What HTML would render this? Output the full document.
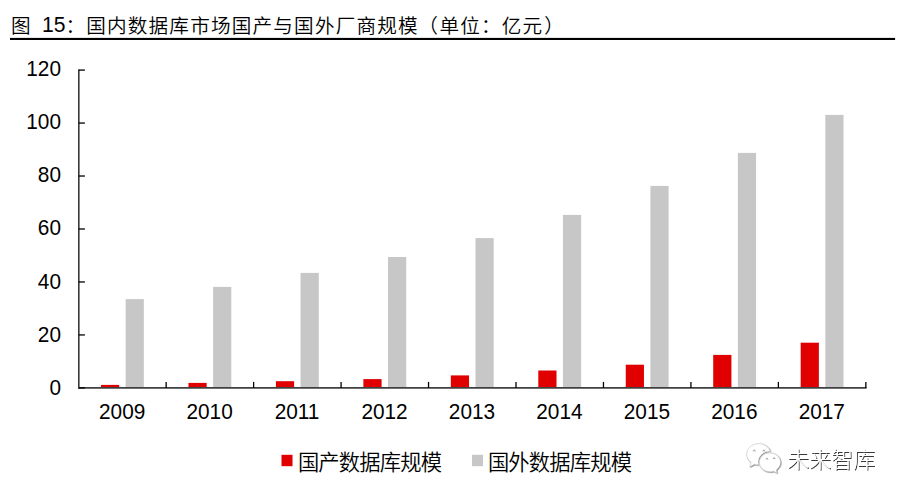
<!DOCTYPE html>
<html lang="zh-CN">
<head>
<meta charset="utf-8">
<title>图 15:国内数据库市场国产与国外厂商规模</title>
<style>
html,body{margin:0;padding:0;background:#fff;}
body{width:905px;height:500px;overflow:hidden;position:relative;}
svg{position:absolute;left:0;top:0;display:block;}
.cjk{font-family:"Liberation Sans","Noto Sans CJK SC DemiLight","Noto Sans CJK SC",sans-serif;fill:#000;}
.num{font-family:"Liberation Sans",sans-serif;fill:#000;font-size:20.8px;}
</style>
</head>
<body>
<svg width="905" height="500" viewBox="0 0 905 500">
<rect x="0" y="0" width="905" height="500" fill="#ffffff"/>
<text class="cjk t" x="11" y="33.1" font-size="19.6" letter-spacing="1.2">图</text>
<text class="num" transform="translate(41.9,31.9) scale(1,1.07)" style="font-size:21.1px">15</text>
<text class="cjk t" y="33.1" font-size="19.6" letter-spacing="1.2"><tspan x="65.4">：国内数据库市场国产与国外厂商规模</tspan><tspan dx="-0.6">（</tspan><tspan dx="0.3">单位：亿元</tspan><tspan dx="0.8">）</tspan></text>
<rect x="10" y="37.9" width="885.1" height="2.1" fill="#000"/>
<rect x="101.00" y="384.9" width="18.2" height="3.00" fill="#e00000"/><rect x="125.65" y="299.1" width="18.2" height="88.80" fill="#c7c7c7"/>
<rect x="188.46" y="382.9" width="18.2" height="5.00" fill="#e00000"/><rect x="213.11" y="286.9" width="18.2" height="101.00" fill="#c7c7c7"/>
<rect x="275.92" y="381.2" width="18.2" height="6.70" fill="#e00000"/><rect x="300.57" y="272.9" width="18.2" height="115.00" fill="#c7c7c7"/>
<rect x="363.38" y="379.1" width="18.2" height="8.80" fill="#e00000"/><rect x="388.03" y="257.0" width="18.2" height="130.90" fill="#c7c7c7"/>
<rect x="450.84" y="375.4" width="18.2" height="12.50" fill="#e00000"/><rect x="475.49" y="238.1" width="18.2" height="149.80" fill="#c7c7c7"/>
<rect x="538.30" y="370.5" width="18.2" height="17.40" fill="#e00000"/><rect x="562.95" y="214.9" width="18.2" height="173.00" fill="#c7c7c7"/>
<rect x="625.76" y="364.7" width="18.2" height="23.20" fill="#e00000"/><rect x="650.41" y="185.9" width="18.2" height="202.00" fill="#c7c7c7"/>
<rect x="713.22" y="354.9" width="18.2" height="33.00" fill="#e00000"/><rect x="737.87" y="152.9" width="18.2" height="235.00" fill="#c7c7c7"/>
<rect x="800.68" y="342.7" width="18.2" height="45.20" fill="#e00000"/><rect x="825.33" y="114.9" width="18.2" height="273.00" fill="#c7c7c7"/>
<line x1="78.85000000000001" y1="69.4" x2="78.85000000000001" y2="388.59999999999997" stroke="#000" stroke-width="1.25"/>
<line x1="78.0" y1="387.9" x2="866.54" y2="387.9" stroke="#404040" stroke-width="1.6"/>
<line x1="78.7" y1="387.90" x2="84.9" y2="387.90" stroke="#000" stroke-width="1.3"/><text class="num" transform="translate(61,394.90) scale(1,1.07)" text-anchor="end">0</text>
<line x1="78.7" y1="334.93" x2="84.9" y2="334.93" stroke="#000" stroke-width="1.3"/><text class="num" transform="translate(61,341.75) scale(1,1.07)" text-anchor="end">20</text>
<line x1="78.7" y1="281.96" x2="84.9" y2="281.96" stroke="#000" stroke-width="1.3"/><text class="num" transform="translate(61,288.60) scale(1,1.07)" text-anchor="end">40</text>
<line x1="78.7" y1="228.99" x2="84.9" y2="228.99" stroke="#000" stroke-width="1.3"/><text class="num" transform="translate(61,235.45) scale(1,1.07)" text-anchor="end">60</text>
<line x1="78.7" y1="176.02" x2="84.9" y2="176.02" stroke="#000" stroke-width="1.3"/><text class="num" transform="translate(61,182.30) scale(1,1.07)" text-anchor="end">80</text>
<line x1="78.7" y1="123.05" x2="84.9" y2="123.05" stroke="#000" stroke-width="1.3"/><text class="num" transform="translate(61,129.15) scale(1,1.07)" text-anchor="end">100</text>
<line x1="78.7" y1="70.08" x2="84.9" y2="70.08" stroke="#000" stroke-width="1.3"/><text class="num" transform="translate(61,76.00) scale(1,1.07)" text-anchor="end">120</text>
<line x1="166.16" y1="381.9" x2="166.16" y2="387.9" stroke="#000" stroke-width="1.3"/><line x1="253.62" y1="381.9" x2="253.62" y2="387.9" stroke="#000" stroke-width="1.3"/><line x1="341.08" y1="381.9" x2="341.08" y2="387.9" stroke="#000" stroke-width="1.3"/><line x1="428.54" y1="381.9" x2="428.54" y2="387.9" stroke="#000" stroke-width="1.3"/><line x1="516.00" y1="381.9" x2="516.00" y2="387.9" stroke="#000" stroke-width="1.3"/><line x1="603.46" y1="381.9" x2="603.46" y2="387.9" stroke="#000" stroke-width="1.3"/><line x1="690.92" y1="381.9" x2="690.92" y2="387.9" stroke="#000" stroke-width="1.3"/><line x1="778.38" y1="381.9" x2="778.38" y2="387.9" stroke="#000" stroke-width="1.3"/><line x1="865.84" y1="381.9" x2="865.84" y2="387.9" stroke="#000" stroke-width="1.3"/>
<text class="num" transform="translate(122.13,418.9) scale(1,1.07)" text-anchor="middle">2009</text><text class="num" transform="translate(209.59,418.9) scale(1,1.07)" text-anchor="middle">2010</text><text class="num" transform="translate(297.05,418.9) scale(1,1.07)" text-anchor="middle">2011</text><text class="num" transform="translate(384.51,418.9) scale(1,1.07)" text-anchor="middle">2012</text><text class="num" transform="translate(471.97,418.9) scale(1,1.07)" text-anchor="middle">2013</text><text class="num" transform="translate(559.43,418.9) scale(1,1.07)" text-anchor="middle">2014</text><text class="num" transform="translate(646.89,418.9) scale(1,1.07)" text-anchor="middle">2015</text><text class="num" transform="translate(734.35,418.9) scale(1,1.07)" text-anchor="middle">2016</text><text class="num" transform="translate(821.81,418.9) scale(1,1.07)" text-anchor="middle">2017</text>
<rect x="281.5" y="454.8" width="11" height="11.4" fill="#e00000"/><text class="cjk" x="297.9" y="469.6" font-size="21.3" letter-spacing="-0.83">国产数据库规模</text>
<rect x="472" y="454.8" width="11" height="11.4" fill="#c7c7c7"/><text class="cjk" x="487.9" y="469.6" font-size="21.3" letter-spacing="-0.83">国外数据库规模</text>
<defs>
<filter id="emb" x="-10%" y="-10%" width="125%" height="135%">
<feDropShadow dx="0.6" dy="0.6" stdDeviation="0.25" flood-color="#3a3a3a" flood-opacity="0.85"/>
</filter>
<filter id="embt" x="-10%" y="-10%" width="125%" height="135%">
<feDropShadow dx="1" dy="1" stdDeviation="0.3" flood-color="#383838" flood-opacity="1"/>
</filter>
<mask id="cut" maskUnits="userSpaceOnUse" x="740" y="436" width="50" height="44">
<rect x="740" y="436" width="50" height="44" fill="#fff"/>
<ellipse cx="769.9" cy="462" rx="12.1" ry="11.1" fill="#000"/>
</mask>
</defs>
<g transform="translate(763.7,458.2) scale(0.97) translate(-763.5,-458)">
<g filter="url(#emb)">
<path mask="url(#cut)" fill="#fff" stroke="#c2c2c2" stroke-width="0.5" d="M758.4 443 C751.5 443 746 447.9 746 453.9 C746 457.3 747.8 460.3 750.6 462.3 L749.2 466.9 L754 464.2 C755.4 464.6 756.9 464.8 758.4 464.8 C765.3 464.8 770.8 459.9 770.8 453.9 C770.8 447.9 765.3 443 758.4 443 Z"/>
</g>
<g filter="url(#emb)">
<path fill="#fff" stroke="#c2c2c2" stroke-width="0.5" d="M770 452.6 C764 452.6 759.2 456.9 759.2 462.3 C759.2 467.7 764 472 770 472 C771.3 472 772.6 471.8 773.8 471.4 L777.3 473.3 L776.4 470.1 C779.1 468.3 780.8 465.5 780.8 462.3 C780.8 456.9 776 452.6 770 452.6 Z"/>
</g>
<g fill="none" stroke="#7d7d7d" stroke-width="0.8" stroke-linecap="round">
<path d="M752.9 450.6 a0.95 1 0 0 1 1.9 0"/><path d="M762.8 450.6 a0.95 1 0 0 1 1.9 0"/>
<path d="M766 458.9 a0.85 0.9 0 0 1 1.7 0"/><path d="M773.4 458.4 a0.85 0.9 0 0 1 1.7 0"/>
</g>
</g>
<text x="786.9" y="467.2" font-size="22" fill="#fff" filter="url(#embt)" style="font-family:'Liberation Sans','Noto Sans CJK SC Light','Noto Sans CJK SC',sans-serif;font-weight:300">未来智库</text>
</svg>
</body>
</html>
